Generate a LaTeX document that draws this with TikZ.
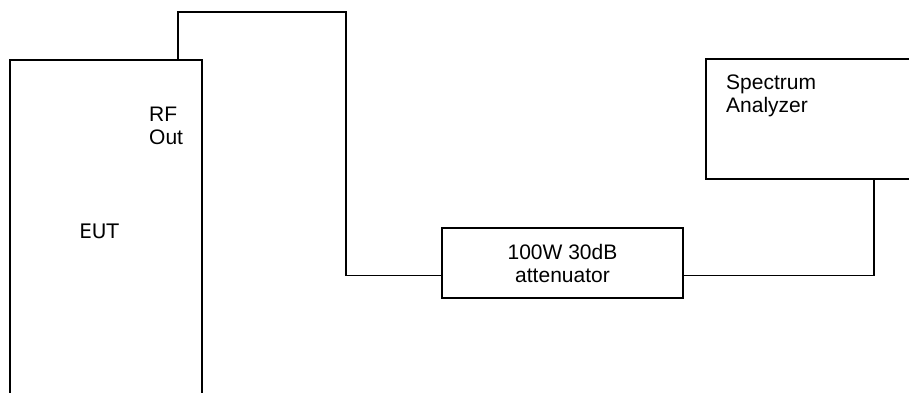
\documentclass[tikz,border=0pt]{standalone}
\usepackage{fontspec}
\setmainfont{Liberation Sans}
\newfontfamily\eutfont{DejaVu Sans}
\begin{document}
\begin{tikzpicture}[x=1pt,y=1pt,
	box/.style={ rectangle, draw, line width=1.6pt, inner sep=0pt },
	tag/.style={ inner sep=0pt, align=left, font=\fontsize{21}{23}\selectfont },
	cable/.style={ line width=1.6pt, line join=miter }
]
	\useasboundingbox (0,0) rectangle (909,392);
	\clip (0,0) rectangle (909,392);
	\node at (106,161) (eut) [box,minimum width=192pt,minimum height=342pt] {};
	\node at (562.5,129) (att) [box,minimum width=241pt,minimum height=70pt,align=center,font=\fontsize{21}{23}\selectfont] {100W 30dB\\attenuator};
	\node at (823,273) (sa) [box,minimum width=234pt,minimum height=120pt] {};
	\node at (99,161) (euttag) [tag,font=\eutfont\fontsize{20}{23}\selectfont] {EUT};
	\node at (149,285) (rftag) [tag,anchor=north west] {RF\\Out};
	\node at (726,317) (satag) [tag,anchor=north west] {Spectrum\\Analyzer};
	\coordinate (rfport) at ([xshift=72pt]eut.north);
	\coordinate (attin) at ([yshift=-12.5pt]att.west);
	\coordinate (attout) at ([yshift=-12.5pt]att.east);
	\coordinate (sain) at ([xshift=51pt]sa.south);
	\draw[cable] (rfport) |- (346,380) |- (attin);
	\draw[cable] (attout) -| (sain);
\end{tikzpicture}
\end{document}
